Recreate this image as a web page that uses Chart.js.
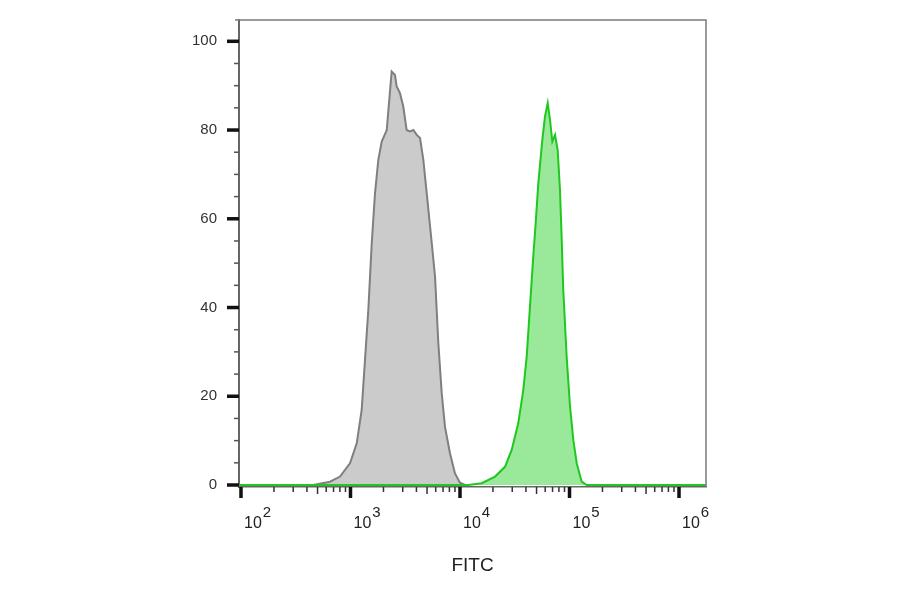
<!DOCTYPE html>
<html>
<head>
<meta charset="utf-8">
<script src="https://cdn.jsdelivr.net/npm/chart.js@4.4.1/dist/chart.umd.min.js"></script>
<style>
html, body { margin: 0; padding: 0; background: #fff; }
</style>
</head>
<body>
<canvas id="histograma" width="900" height="594"></canvas>
<script>
// control (gris) - FITC intensity / count
const grisFitc = [457, 650, 802, 989, 1140, 1265, 1357, 1455, 1563, 1675, 1795, 1928, 2143, 2260, 2377,
    2547, 2642, 2831, 3034, 3258, 3491, 3750, 4027, 4315, 4624, 4966, 5521, 5916, 6339, 6808,
    7295, 8110, 8995, 10000, 11110];
const grisConteo = [0, 0.75, 1.9, 4.9, 9.4, 16.9, 28.2, 39.5, 54.5, 65.8, 73.3, 77.4, 80, 86.8, 93.2,
    92.4, 89.8, 88.3, 85.3, 80, 79.7, 80, 78.9, 78.2, 73.3, 65.8, 54.5, 47, 32, 20.7,
    13.1, 7.1, 2.6, 0.5, 0];

// muestra (verde)
const verdeFitc = [96, 11910, 15780, 20890, 25760, 29650, 34040, 37840, 40640, 43550, 46670, 49100,
    51880, 56490, 59700, 63240, 66370, 69660, 73790, 77980, 81850, 84920, 87700, 94190,
    101100, 108400, 116400, 129200, 143500, 1760000];
const verdeConteo = [0, 0, 0.4, 1.9, 4.1, 7.9, 13.9, 21.4, 28.9, 40.2, 51.5, 59, 68, 77.8, 83, 86.1,
    82.3, 77.4, 78.9, 75.5, 66.5, 55.2, 44, 28.9, 17.7, 10.1, 4.9, 0.75, 0, 0];

const yTicks = [0, 20, 40, 60, 80, 100];
const xDecadas = [2, 3, 4, 5, 6];
const tituloX = 'FITC';

const fuente = '"Liberation Sans", Arial, sans-serif';
Chart.defaults.font.family = fuente;

const marcasEjes = {
    id: 'marcasEjes',
    afterDraw(chart) {
        const {ctx, chartArea, scales: {x, y}} = chart;
        ctx.save();

        // marco superior y derecho
        ctx.strokeStyle = '#7a7a7a';
        ctx.lineWidth = 1.5;
        ctx.beginPath();
        ctx.moveTo(chartArea.left - 4, chartArea.top);
        ctx.lineTo(chartArea.right, chartArea.top);
        ctx.lineTo(chartArea.right, chartArea.bottom);
        ctx.stroke();

        // ticks eje y
        for (let v = 0; v <= 100; v += 5) {
            const py = y.getPixelForValue(v);
            const mayor = yTicks.includes(v);
            ctx.strokeStyle = mayor ? '#111' : '#555';
            ctx.lineWidth = mayor ? 3.5 : 1.5;
            ctx.beginPath();
            ctx.moveTo(chartArea.left - (mayor ? 12 : 5), py);
            ctx.lineTo(chartArea.left, py);
            ctx.stroke();
        }

        // ticks eje x (log)
        xDecadas.forEach(d => {
            for (let m = 1; m <= 9; m++) {
                const v = m * Math.pow(10, d);
                if (v < x.min || v > x.max) continue;
                const px = x.getPixelForValue(v);
                const largo = m === 1 ? 11 : (m === 5 ? 7 : 5);
                ctx.strokeStyle = m === 1 ? '#111' : '#333';
                ctx.lineWidth = m === 1 ? 3.5 : 1.5;
                ctx.beginPath();
                ctx.moveTo(px, chartArea.bottom);
                ctx.lineTo(px, chartArea.bottom + largo);
                ctx.stroke();
            }
        });

        // etiquetas 10^n
        ctx.fillStyle = '#222';
        ctx.textAlign = 'left';
        ctx.textBaseline = 'alphabetic';
        xDecadas.forEach(d => {
            const px = x.getPixelForValue(Math.pow(10, d));
            ctx.font = '16px ' + fuente;
            ctx.fillText('10', px + 3, chartArea.bottom + 41);
            const w = ctx.measureText('10').width;
            ctx.font = '15px ' + fuente;
            ctx.fillText(String(d), px + 4 + w, chartArea.bottom + 30);
        });
        ctx.restore();
    }
};

const chart = new Chart(document.getElementById('histograma'), {
    type: 'line',
    data: {
        datasets: [{
            label: 'verde',
            data: verdeFitc.map((f, i) => ({x: f, y: verdeConteo[i]})),
            borderColor: '#1ec81e',
            backgroundColor: '#9ae99a',
            borderWidth: 2,
            fill: 'origin',
            pointRadius: 0,
            order: 0
        }, {
            label: 'gris',
            data: grisFitc.map((f, i) => ({x: f, y: grisConteo[i]})),
            borderColor: '#7f7f7f',
            backgroundColor: '#cbcbcb',
            borderWidth: 2,
            fill: 'origin',
            pointRadius: 0,
            order: 1
        }]
    },
    options: {
        responsive: false,
        animation: false,
        devicePixelRatio: 1,
        layout: {padding: {left: 0, top: 20, right: 194, bottom: 0}},
        plugins: {
            legend: {display: false},
            tooltip: {enabled: false}
        },
        scales: {
            x: {
                type: 'logarithmic',
                min: 95.9,
                max: 1764000,
                grid: {display: false, drawTicks: false},
                border: {display: true, color: '#666', width: 1.5},
                ticks: {display: false},
                title: {
                    display: true,
                    text: tituloX,
                    color: '#222',
                    font: {size: 19},
                    padding: {top: 0, bottom: 17}
                },
                afterFit: (scale) => {
                    scale.height = 107;
                    scale.paddingLeft = 0;
                    scale.paddingRight = 0;
                }
            },
            y: {
                min: -0.45,
                max: 104.8,
                grid: {display: false, drawTicks: false},
                border: {display: true, color: '#666', width: 2},
                afterBuildTicks: (scale) => {
                    scale.ticks = yTicks.map(v => ({value: v}));
                },
                ticks: {
                    padding: 22,
                    color: '#333',
                    font: {size: 15},
                    callback: (v) => String(v)
                },
                afterFit: (scale) => {
                    scale.width = 239;
                    scale.paddingTop = 0;
                    scale.paddingBottom = 0;
                }
            }
        }
    },
    plugins: [marcasEjes]
});
</script>
</body>
</html>
